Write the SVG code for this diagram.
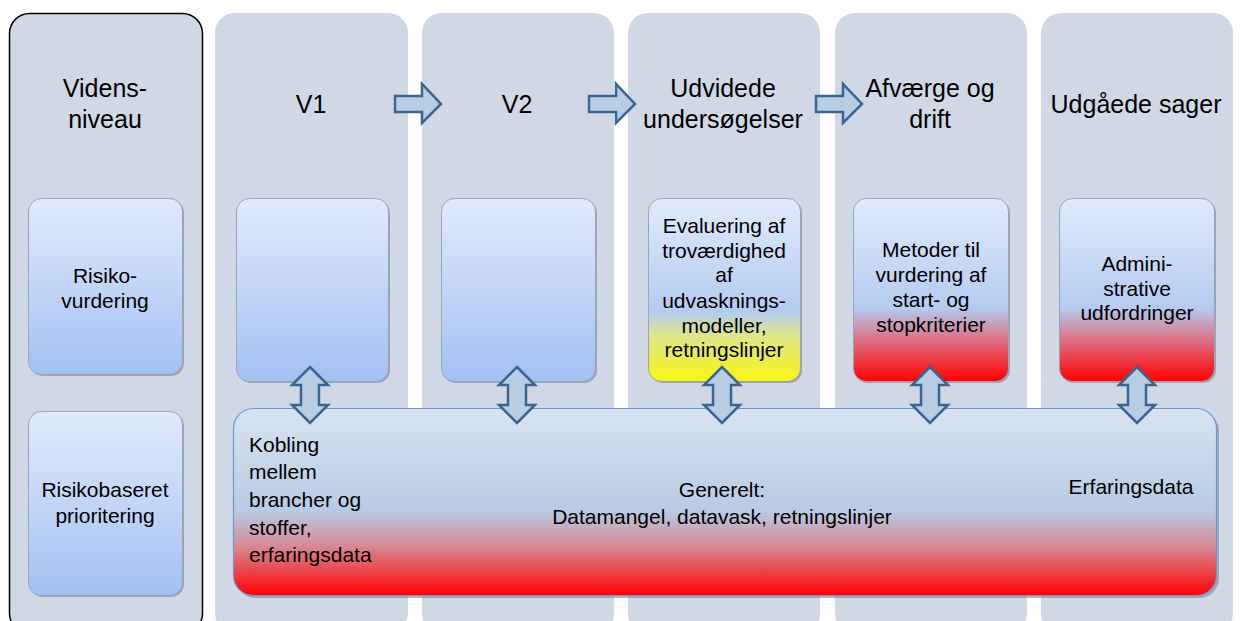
<svg xmlns="http://www.w3.org/2000/svg" width="1240" height="621" viewBox="0 0 1240 621">
<style>
.col{fill:#d0d8e6}
.title{font-family:"Liberation Sans",Arial,sans-serif;font-size:25px;fill:#000;text-anchor:middle}
.lbl{font-family:"Liberation Sans",Arial,sans-serif;font-size:21px;fill:#000;text-anchor:middle}
.lbll{font-family:"Liberation Sans",Arial,sans-serif;font-size:21px;fill:#000}
.arr{fill:#b8cce4;stroke:#3c6490;stroke-width:2.5;stroke-linejoin:miter}
.shadow{fill:#7a8496;opacity:0.6}
</style>
<defs>
<linearGradient id="gBlue" x1="0" y1="0" x2="0" y2="1">
<stop offset="0" stop-color="#e1eafb"/>
<stop offset="1" stop-color="#a3c0f3"/>
</linearGradient>
<linearGradient id="gYellow" x1="0" y1="0" x2="0" y2="1">
<stop offset="0" stop-color="#e1eafb"/>
<stop offset="0.62" stop-color="#b4cbf0"/>
<stop offset="0.75" stop-color="#dfe68a"/>
<stop offset="1" stop-color="#f8f510"/>
</linearGradient>
<linearGradient id="gRed" x1="0" y1="0" x2="0" y2="1">
<stop offset="0" stop-color="#e1eafb"/>
<stop offset="0.6" stop-color="#b4cbf0"/>
<stop offset="0.78" stop-color="#dd6d80"/>
<stop offset="1" stop-color="#ff0000"/>
</linearGradient>
<linearGradient id="gBig" x1="0" y1="0" x2="0" y2="1">
<stop offset="0" stop-color="#d8e3f1"/>
<stop offset="0.55" stop-color="#b7cbe3"/>
<stop offset="0.75" stop-color="#d9838f"/>
<stop offset="1" stop-color="#ff0000"/>
</linearGradient>
</defs>

<g id="col-videns">
<rect x="9.5" y="13.5" width="193" height="620" rx="20" class="col" stroke="#000" stroke-width="1.5"/>
<text class="title" x="105" y="97">Videns-</text>
<text class="title" x="105" y="128">niveau</text>
</g>
<g id="col-v1">
<rect x="215" y="13" width="193" height="620" rx="20" class="col"/>
<text class="title" x="311" y="113">V1</text>
</g>
<g id="col-v2">
<rect x="422" y="13" width="192" height="620" rx="20" class="col"/>
<text class="title" x="517" y="113">V2</text>
</g>
<g id="col-udv">
<rect x="628" y="13" width="192" height="620" rx="20" class="col"/>
<text class="title" x="723" y="97">Udvidede</text>
<text class="title" x="723" y="128">undersøgelser</text>
</g>
<g id="col-afv">
<rect x="835" y="13" width="192" height="620" rx="20" class="col"/>
<text class="title" x="930" y="97">Afværge og</text>
<text class="title" x="930" y="128">drift</text>
</g>
<g id="col-udg">
<rect x="1041" y="13" width="192" height="620" rx="20" class="col"/>
<text class="title" x="1136" y="113">Udgåede sager</text>
</g>

<g id="box-risikovurdering">
<rect x="30" y="200" width="154" height="176" rx="13" class="shadow"/>
<rect x="28.5" y="198.5" width="154" height="176" rx="13" fill="url(#gBlue)" stroke="#9aa6b8" stroke-width="1"/>
<text class="lbl" x="105" y="283">Risiko-</text>
<text class="lbl" x="105" y="308">vurdering</text>
</g>
<g id="box-risikobaseret">
<rect x="30" y="413" width="154" height="184" rx="13" class="shadow"/>
<rect x="28.5" y="411.5" width="154" height="184" rx="13" fill="url(#gBlue)" stroke="#9aa6b8" stroke-width="1"/>
<text class="lbl" x="105" y="497">Risikobaseret</text>
<text class="lbl" x="105" y="523">prioritering</text>
</g>
<g id="box-v1">
<rect x="238" y="200" width="152" height="183" rx="13" class="shadow"/>
<rect x="236.5" y="198.5" width="152" height="183" rx="13" fill="url(#gBlue)" stroke="#9aa6b8" stroke-width="1"/>
</g>
<g id="box-v2">
<rect x="443" y="200" width="154" height="183" rx="13" class="shadow"/>
<rect x="441.5" y="198.5" width="154" height="183" rx="13" fill="url(#gBlue)" stroke="#9aa6b8" stroke-width="1"/>
</g>
<g id="box-evaluering">
<rect x="650" y="200" width="152" height="183" rx="13" class="shadow"/>
<rect x="648.5" y="198.5" width="152" height="183" rx="13" fill="url(#gYellow)" stroke="#9aa6b8" stroke-width="1"/>
<text class="lbl" x="724" y="233">Evaluering af</text>
<text class="lbl" x="724" y="258">troværdighed</text>
<text class="lbl" x="724" y="282">af</text>
<text class="lbl" x="724" y="308">udvasknings-</text>
<text class="lbl" x="724" y="333">modeller,</text>
<text class="lbl" x="724" y="357">retningslinjer</text>
</g>
<g id="box-metoder">
<rect x="855" y="200" width="155" height="183" rx="13" class="shadow"/>
<rect x="853.5" y="198.5" width="155" height="183" rx="13" fill="url(#gRed)" stroke="#9aa6b8" stroke-width="1"/>
<text class="lbl" x="931" y="257">Metoder til</text>
<text class="lbl" x="931" y="282">vurdering af</text>
<text class="lbl" x="931" y="307">start- og</text>
<text class="lbl" x="931" y="332">stopkriterier</text>
</g>
<g id="box-admin">
<rect x="1061" y="200" width="155" height="183" rx="13" class="shadow"/>
<rect x="1059.5" y="198.5" width="155" height="183" rx="13" fill="url(#gRed)" stroke="#9aa6b8" stroke-width="1"/>
<text class="lbl" x="1137" y="271">Admini-</text>
<text class="lbl" x="1137" y="296">strative</text>
<text class="lbl" x="1137" y="320">udfordringer</text>
</g>
<g id="box-generelt">
<rect x="236" y="411" width="983" height="187" rx="20" class="shadow"/>
<rect x="233.5" y="408.5" width="983" height="187" rx="20" fill="url(#gBig)" stroke="#6a98d0" stroke-width="1.2"/>
<text class="lbll" x="249" y="452">Kobling</text>
<text class="lbll" x="249" y="479">mellem</text>
<text class="lbll" x="249" y="507">brancher og</text>
<text class="lbll" x="249" y="535">stoffer,</text>
<text class="lbll" x="249" y="562">erfaringsdata</text>
<text class="lbl" x="722" y="497">Generelt:</text>
<text class="lbl" x="722" y="524">Datamangel, datavask, retningslinjer</text>
<text class="lbl" x="1131" y="494">Erfaringsdata</text>
</g>

<g id="connectors">
<path class="arr" d="M395,96 H422 V84 L441,104 L422,123 V112 H395 Z"/>
<path class="arr" d="M589,96 H616 V84 L635,104 L616,123 V112 H589 Z"/>
<path class="arr" d="M816,96 H843 V84 L862,104 L843,123 V112 H816 Z"/>
<path class="arr" d="M310,367 L328,385 H319 V405 H328 L310,423 L292,405 H301 V385 H292 Z"/>
<path class="arr" d="M517,367 L535,385 H526 V405 H535 L517,423 L499,405 H508 V385 H499 Z"/>
<path class="arr" d="M722,367 L740,385 H731 V405 H740 L722,423 L704,405 H713 V385 H704 Z"/>
<path class="arr" d="M930,367 L948,385 H939 V405 H948 L930,423 L912,405 H921 V385 H912 Z"/>
<path class="arr" d="M1137,367 L1155,385 H1146 V405 H1155 L1137,423 L1119,405 H1128 V385 H1119 Z"/>
</g>
</svg>
